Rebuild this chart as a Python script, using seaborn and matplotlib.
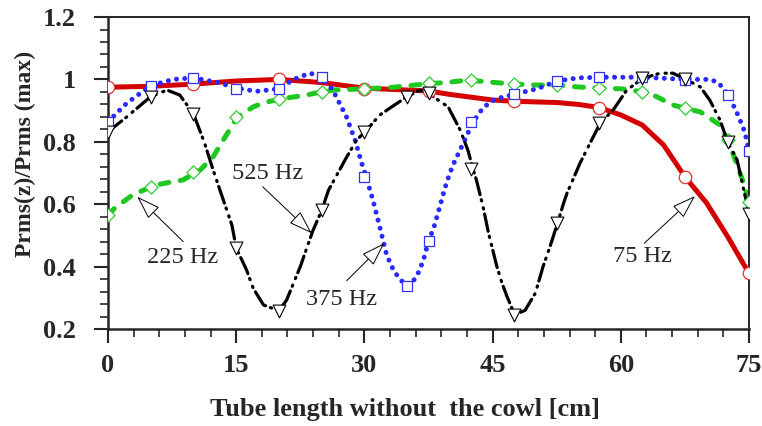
import matplotlib
matplotlib.use("Agg")
import matplotlib.pyplot as plt
import seaborn as sns
import numpy as np
from matplotlib.ticker import MultipleLocator

# 75 Hz curve (red)
x75 = [0, 5, 10, 15, 20, 25, 30, 35, 37.5, 40, 42.5, 45, 47.5, 50, 52.5, 55,
       57.5, 60, 62.5, 65, 67.5, 70, 72.5, 75]
y75 = [0.975, 0.978, 0.985, 0.995, 1.0, 0.99, 0.972, 0.966, 0.963, 0.952, 0.943,
       0.934, 0.93, 0.928, 0.926, 0.92, 0.91, 0.886, 0.854, 0.79, 0.688, 0.605,
       0.496, 0.378]
mx75 = [0, 10, 20, 30, 37.5, 47.5, 57.5, 67.5, 75]
my75 = [0.975, 0.985, 1.0, 0.97, 0.962, 0.93, 0.91, 0.688, 0.378]

# 225 Hz curve (green)
x225 = [0, 0.8, 2.9, 5, 6.2, 8.8, 10.8, 12.3, 13.5, 14.7, 15.1, 17, 18.2, 20.1,
        23.2, 25, 26.4, 30, 33, 37.7, 39.6, 42.1, 45.3, 47.6, 50, 52.6, 54.9,
        57.6, 60, 62.6, 63.8, 66.1, 67.6, 69.3, 71.6, 72.5, 73.7, 74.3, 75]
y225 = [0.565, 0.588, 0.63, 0.655, 0.665, 0.678, 0.71, 0.752, 0.806, 0.86, 0.879,
        0.912, 0.925, 0.937, 0.95, 0.96, 0.966, 0.97, 0.974, 0.987, 0.99, 0.998,
        0.99, 0.985, 0.982, 0.982, 0.976, 0.972, 0.97, 0.96, 0.95, 0.918, 0.907,
        0.896, 0.854, 0.806, 0.72, 0.672, 0.608]
mx225 = [0, 5, 10, 15, 20, 25, 30, 37.5, 42.5, 47.5, 52.5, 57.5, 62.5, 67.5, 72.5, 75]
my225 = [0.565, 0.655, 0.703, 0.879, 0.937, 0.96, 0.97, 0.987, 0.998, 0.985, 0.982,
         0.972, 0.96, 0.907, 0.806, 0.608]

# 375 Hz curve (blue)
x375 = [0, 0.8, 2.2, 5, 7.6, 10, 12.9, 15, 17.4, 20, 21.7, 23.6, 25, 26.3, 26.9,
        27.9, 28.9, 29.7, 30.2, 31, 31.8, 32.6, 33.4, 34.2, 35.2, 36.1, 36.9, 37.5,
        38.1, 38.8, 39.4, 40, 40.6, 41.2, 42.7, 43.9, 45.3, 47.6, 50.2, 52.6, 55,
        57.6, 62.6, 67.6, 70.4, 71.4, 72.6, 73.7, 74.5, 75]
y375 = [0.863, 0.886, 0.924, 0.98, 1.0, 1.005, 0.99, 0.972, 0.962, 0.97, 1.0,
        1.02, 1.01, 0.966, 0.934, 0.88, 0.806, 0.73, 0.687, 0.613, 0.527, 0.437,
        0.389, 0.357, 0.338, 0.367, 0.42, 0.482, 0.523, 0.59, 0.65, 0.70, 0.74,
        0.774, 0.863, 0.91, 0.937, 0.953, 0.97, 0.995, 1.005, 1.007, 1.007, 1.0,
        1.0, 0.99, 0.95, 0.886, 0.832, 0.77]
mx375 = [0, 5, 10, 15, 20, 25, 30, 35, 37.5, 42.5, 47.5, 52.5, 57.5, 62.5, 67.5,
         72.5, 75]
my375 = [0.863, 0.98, 1.005, 0.97, 0.97, 1.007, 0.687, 0.338, 0.482, 0.863, 0.953,
         0.995, 1.007, 1.007, 0.998, 0.95, 0.77]

# 525 Hz curve (black)
x525 = [0, 2.2, 5, 6.9, 8.4, 10, 11.3, 12.3, 13.5, 14.5, 15, 16.2, 17, 18.2, 20,
        20.9, 22.5, 23.3, 24, 25, 25.8, 27.9, 29.1, 30, 31.8, 33.2, 35, 36.5, 37.5,
        39.8, 41.2, 42.1, 42.7, 43.1, 43.9, 44.5, 45.5, 46.1, 46.7, 47.6, 48.8, 50,
        50.9, 51.7, 52.6, 53.3, 53.7, 55.2, 56.4, 57.6, 59.1, 60.7, 62.6, 64.6,
        66.1, 67.6, 69.3, 70.4, 71.6, 72.5, 73.6, 75]
y525 = [0.832, 0.88, 0.945, 0.966, 0.95, 0.89, 0.796, 0.71, 0.613, 0.533, 0.46,
        0.39, 0.33, 0.277, 0.258, 0.293, 0.4, 0.463, 0.517, 0.58, 0.645, 0.75,
        0.806, 0.83, 0.886, 0.912, 0.945, 0.966, 0.955, 0.912, 0.838, 0.774, 0.714,
        0.678, 0.59, 0.51, 0.4, 0.347, 0.303, 0.245, 0.26, 0.315, 0.4, 0.463, 0.54,
        0.603, 0.635, 0.73, 0.796, 0.86, 0.902, 0.966, 1.004, 1.02, 1.02, 1.0,
        0.976, 0.934, 0.87, 0.80, 0.742, 0.57]
mx525 = [0, 5, 10, 15, 20, 25, 30, 35, 37.5, 42.5, 47.5, 52.5, 57.5, 62.5, 67.5,
         72.5, 75]
my525 = [0.832, 0.945, 0.89, 0.46, 0.258, 0.58, 0.83, 0.945, 0.955, 0.714, 0.245,
         0.54, 0.86, 1.004, 1.0, 0.80, 0.57]

labels = ["75 Hz", "225 Hz", "375 Hz", "525 Hz"]

sns.set_style("ticks")
plt.rcParams["font.family"] = ["Liberation Serif", "DejaVu Serif"]

fig = plt.figure(figsize=(7.62, 4.26), dpi=100)
ax = fig.add_axes([0.1417, 0.2277, 0.8413, 0.7323])

red, green, blue = "#d40000", "#1ec81e", "#2a2aff"

sns.lineplot(x=x75, y=y75, color=red, lw=3.6, sort=False, ax=ax,
             solid_capstyle="round")
sns.lineplot(x=x225, y=y225, color=green, lw=3.6, sort=False, ax=ax,
             linestyle=(0, (1.8, 2.3)), dash_capstyle="round")
sns.lineplot(x=x375, y=y375, color=blue, lw=3.6, sort=False, ax=ax,
             linestyle=(0, (0.01, 1.65)), dash_capstyle="round")
sns.lineplot(x=x525, y=y525, color="black", lw=2.3, sort=False, ax=ax,
             linestyle=(0, (5.5, 1.6, 0.4, 2.2, 0.4, 1.6)), dash_capstyle="round")

sns.scatterplot(x=mx75, y=my75, marker="o", s=80, color="white",
                edgecolor="#e83030", linewidth=0.9, ax=ax, zorder=5)
sns.scatterplot(x=mx225, y=my225, marker="D", s=45, color="white",
                edgecolor="#33cc33", linewidth=0.9, ax=ax, zorder=5)
sns.scatterplot(x=mx375, y=my375, marker="s", s=55, color="white",
                edgecolor="#3333ff", linewidth=0.9, ax=ax, zorder=5)
sns.scatterplot(x=mx525, y=my525, marker="v", s=85, color="white",
                edgecolor="black", linewidth=0.8, ax=ax, zorder=5)

ax.set_xlim(0, 75)
ax.set_ylim(0.2, 1.2)
ax.xaxis.set_major_locator(MultipleLocator(15))
ax.xaxis.set_minor_locator(MultipleLocator(3))
ax.yaxis.set_minor_locator(MultipleLocator(0.04))
ax.set_yticks([0.2, 0.4, 0.6, 0.8, 1.0, 1.2])
ax.set_yticklabels(["0.2", "0.4", "0.6", "0.8", "1", "1.2"])
ax.tick_params(which="major", direction="out", length=10, width=1.5,
               labelsize=19)
ax.tick_params(axis="x", which="major", pad=8)
ax.tick_params(axis="y", which="major", pad=13)
ax.tick_params(which="minor", direction="out", length=5.5, width=1.2)
for lab in ax.get_xticklabels() + ax.get_yticklabels():
    lab.set_fontweight("bold")
for side in ["left", "bottom"]:
    ax.spines[side].set_linewidth(1.8)
for side in ["top", "right"]:
    ax.spines[side].set_linewidth(1.4)

ax.set_xlabel("Tube length without  the cowl [cm]", fontsize=19, fontweight="bold")
ax.set_ylabel("Prms(z)/Prms (max)", fontsize=17, fontweight="bold")
ax.xaxis.set_label_coords(0.463, -0.222)
ax.yaxis.set_label_coords(-0.112, 0.56)

arrow = dict(arrowstyle="-|>,head_length=0.75,head_width=0.25", fc="white",
             ec="black", lw=0.7, mutation_scale=20, shrinkA=0, shrinkB=0)
# label, tip, tail, text position
notes = [
    (labels[1], (3.43, 0.624), (8.81, 0.480), (8.78, 0.428)),
    (labels[3], (23.83, 0.507), (18.10, 0.656), (18.72, 0.700)),
    (labels[2], (32.33, 0.475), (27.93, 0.355), (27.34, 0.296)),
    (labels[0], (68.68, 0.626), (62.75, 0.475), (62.56, 0.431)),
]
for txt, tip, tail, pos in notes:
    ax.annotate("", xy=tip, xytext=tail, arrowprops=arrow, zorder=6)
    ax.text(pos[0], pos[1], txt, fontsize=17.5, ha="center", va="center", zorder=6)

fig.savefig("out.png", dpi=100)
